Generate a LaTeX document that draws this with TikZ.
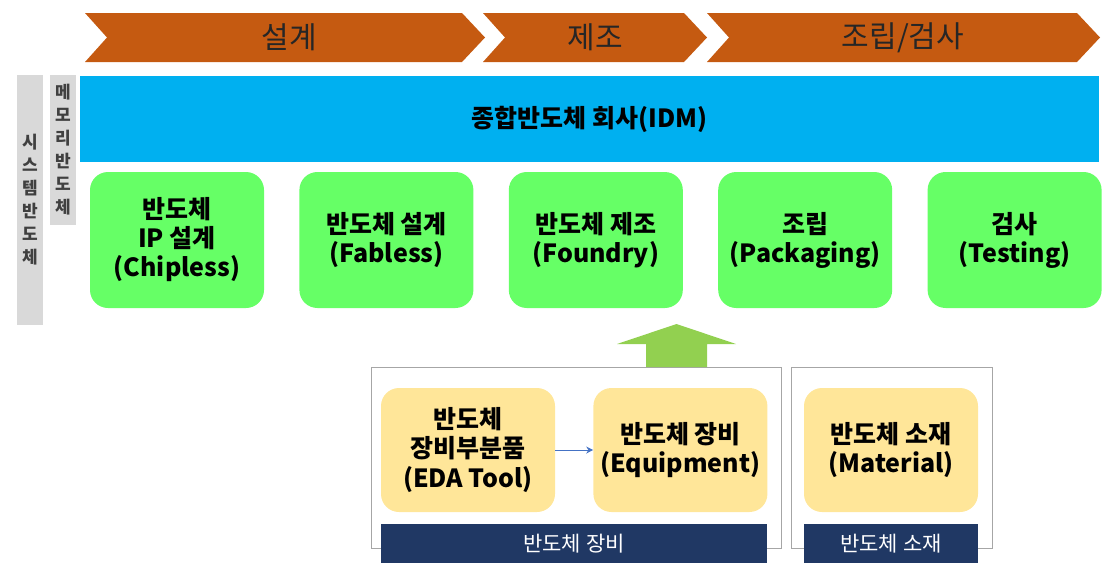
\documentclass[tikz,border=0pt]{standalone}
\usepackage{fontspec}
\setmainfont{Noto Sans CJK KR}
\usepackage{xcolor}
\usepackage{tikz}
\usetikzlibrary{arrows.meta, positioning}

\definecolor{phaseorange}{HTML}{C55A11}
\definecolor{idmblue}{HTML}{00B0F0}
\definecolor{stagegreen}{HTML}{66FF66}
\definecolor{supplyyellow}{HTML}{FFE699}
\definecolor{tagnavy}{HTML}{203864}
\definecolor{sidegray}{HTML}{D9D9D9}
\definecolor{pushgreen}{HTML}{92D050}
\definecolor{linkblue}{HTML}{4472C4}

\begin{document}
\begin{tikzpicture}[
      x=1pt, y=-1pt,
      node distance=35pt,
      phasetxt/.style={font=\fontsize{30}{32}\selectfont, text=black!85},
      sidebar/.style={fill=sidegray, minimum width=26pt, inner sep=0pt, align=center,
                      text=black!75, font=\bfseries\fontsize{17}{23}\selectfont},
      stagebox/.style={fill=stagegreen, rounded corners=18pt, align=center,
                       minimum width=174pt, minimum height=136pt,
                       font=\bfseries\fontsize{25}{29}\selectfont},
      supplybox/.style={fill=supplyyellow, rounded corners=18pt, align=center,
                        minimum width=174pt, minimum height=124pt,
                        font=\bfseries\fontsize{25}{29.5}\selectfont},
      grpbox/.style={draw=black!35, line width=0.8pt, minimum height=181pt},
      bartag/.style={fill=tagnavy, text=white, minimum height=39pt,
                     font=\fontsize{21}{24}\selectfont},
      arr/.style={-{Stealth[length=7pt, width=7pt]}, linkblue, line width=0.8pt}
    ]
    \useasboundingbox (0,0) rectangle (1106,582);

    % value chain phases
    \fill[phaseorange] (85,13) -- (462,13) -- (485,37.5) -- (462,62) -- (85,62) -- (107,37.5) -- cycle;
    \fill[phaseorange] (483,13) -- (684,13) -- (707,37.5) -- (684,62) -- (483,62) -- (505,37.5) -- cycle;
    \fill[phaseorange] (707,13) -- (1077,13) -- (1100,37.5) -- (1077,62) -- (707,62) -- (729,37.5) -- cycle;
    \node[phasetxt] (design)   at (289,37.5) {설계};
    \node[phasetxt] (fab)      at (595,37.5) {제조};
    \node[phasetxt] (assembly) at (903,37.5) {조립/검사};

    % IDM covers the whole chain
    \node[fill=idmblue, minimum width=1019pt, minimum height=86pt,
          font=\bfseries\fontsize{25}{28}\selectfont] (idm) at (589.5,119) {종합반도체 회사(IDM)};

    \node[sidebar, minimum height=250pt] (sysbar) at (30,200) {시\\스\\템\\반\\도\\체};
    \node[sidebar, minimum height=150pt] (membar) at (63,150) {메\\모\\리\\반\\도\\체};

    % stages
    \node[stagebox] (ip) at (177,240) {반도체\\IP 설계\\(Chipless)};
    \node[stagebox, right=of ip]      (fabless) {반도체 설계\\(Fabless)};
    \node[stagebox, right=of fabless] (foundry) {반도체 제조\\(Foundry)};
    \node[stagebox, right=of foundry] (pkg)     {조립\\(Packaging)};
    \node[stagebox, right=of pkg]     (test)    {검사\\(Testing)};

    % equipment and materials
    \node[grpbox, minimum width=410pt] (eqgrp)  at (576,457.5) {};
    \node[grpbox, minimum width=201pt] (matgrp) at (891.5,457.5) {};

    \node[supplybox] (eda) at (468,450) {반도체\\장비부분품\\(EDA Tool)};
    \node[supplybox, right=38pt of eda] (equip) {반도체 장비\\(Equipment)};
    \node[supplybox] (material) at (891,450) {반도체 소재\\(Material)};

    \node[bartag, minimum width=386pt] (eqtag)  at (574,543.5) {반도체 장비};
    \node[bartag, minimum width=174pt] (mattag) at (891,543.5) {반도체 소재};

    \draw[arr] (eda) -- (equip);

    % push up into the foundry
    \fill[pushgreen] (646,367) -- (646,344) -- (617,344) -- (676.5,324)
      -- (736,344) -- (707,344) -- (707,367) -- cycle;
  \end{tikzpicture}
\end{document}
